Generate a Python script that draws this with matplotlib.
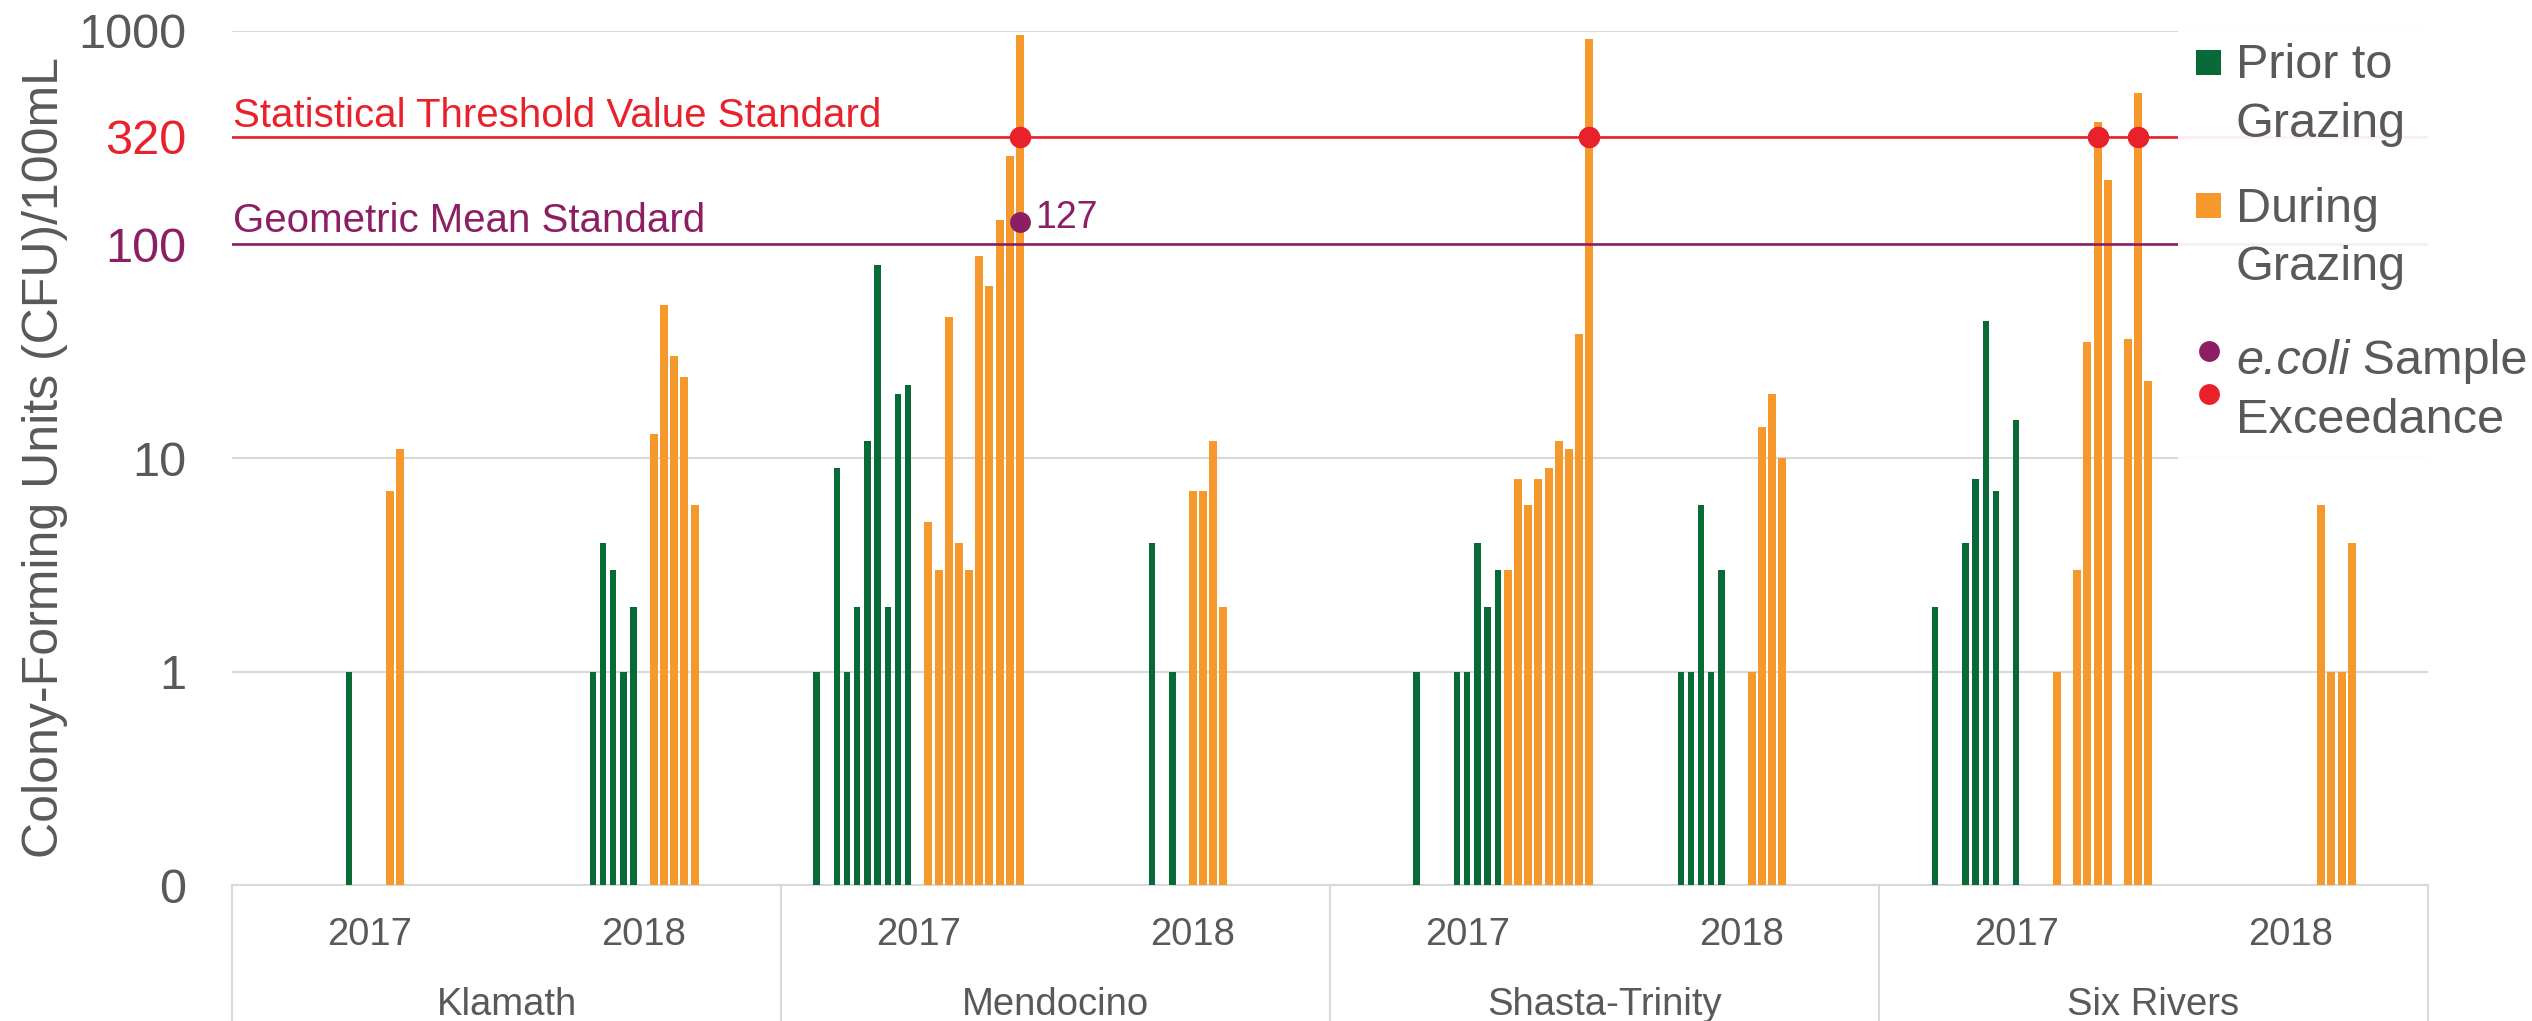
import numpy as np
import matplotlib
matplotlib.use("Agg")
import matplotlib.pyplot as plt
import matplotlib.transforms as mtransforms
from matplotlib.patches import Rectangle
from matplotlib.lines import Line2D

plt.rcParams['font.family'] = ['Liberation Sans', 'DejaVu Sans']

_ = None
FORESTS = ['Klamath', 'Mendocino', 'Shasta-Trinity', 'Six Rivers']
YEARS = ['2017', '2018']
N_SLOTS = 27  # sample slots per forest-year group

# ---- E. coli results, CFU/100mL (None = no sample in that slot) ----
KLA17_PRIOR  = [_,_,_,_,_,_,_,_,_,  _,_,1,_,_,_,_,_,_,  _,_,_,_,_,_,_,_,_]
KLA17_DURING = [_,_,_,_,_,_,_,_,_,  _,_,_,_,_,_,7,11,_, _,_,_,_,_,_,_,_,_]
KLA18_PRIOR  = [_,_,_,_,_,_,_,_,1,  4,3,1,2,_,_,_,_,_,  _,_,_,_,_,_,_,_,_]
KLA18_DURING = [_,_,_,_,_,_,_,_,_,  _,_,_,_,_,13,52,30,24, 6,_,_,_,_,_,_,_,_]

MEN17_PRIOR  = [_,_,_,1,_,9,1,2,12, 80,2,20,22,_,_,_,_,_, _,_,_,_,_,_,_,_,_]
MEN17_DURING = [_,_,_,_,_,_,_,_,_,  _,_,_,_,_,5,3,46,4,  3,88,64,130,260,960,_,_,_]
MEN18_PRIOR  = [_,_,_,_,_,_,_,_,_,  4,_,1,_,_,_,_,_,_,  _,_,_,_,_,_,_,_,_]
MEN18_DURING = [_,_,_,_,_,_,_,_,_,  _,_,_,_,7,7,12,2,_,  _,_,_,_,_,_,_,_,_]

SHA17_PRIOR  = [_,_,_,_,_,_,_,_,1,  _,_,_,1,1,4,2,3,_,  _,_,_,_,_,_,_,_,_]
SHA17_DURING = [_,_,_,_,_,_,_,_,_,  _,_,_,_,_,_,_,_,3,  8,6,8,9,12,11,38,920,_]
SHA18_PRIOR  = [_,_,_,_,_,_,_,1,1,  6,1,3,_,_,_,_,_,_,  _,_,_,_,_,_,_,_,_]
SHA18_DURING = [_,_,_,_,_,_,_,_,_,  _,_,_,_,_,1,14,20,10, _,_,_,_,_,_,_,_,_]

SIX17_PRIOR  = [_,_,_,_,_,2,_,_,4,  8,44,7,_,15,_,_,_,_, _,_,_,_,_,_,_,_,_]
SIX17_DURING = [_,_,_,_,_,_,_,_,_,  _,_,_,_,_,_,_,_,1,  _,3,35,375,200,_,36,510,23]
SIX18_PRIOR  = [_,_,_,_,_,_,_,_,_,  _,_,_,_,_,_,_,_,_,  _,_,_,_,_,_,_,_,_]
SIX18_DURING = [_,_,_,_,_,_,_,_,_,  _,_,_,_,_,_,_,6,1,  1,4,_,_,_,_,_,_,_]

PRIOR = [KLA17_PRIOR, KLA18_PRIOR, MEN17_PRIOR, MEN18_PRIOR,
         SHA17_PRIOR, SHA18_PRIOR, SIX17_PRIOR, SIX18_PRIOR]
DURING = [KLA17_DURING, KLA18_DURING, MEN17_DURING, MEN18_DURING,
          SHA17_DURING, SHA18_DURING, SIX17_DURING, SIX18_DURING]

STV_STANDARD = 320      # Statistical Threshold Value
GM_STANDARD = 100       # Geometric Mean
GM_EXCEED_GROUP = [2]   # Mendocino 2017
GM_EXCEED_VALUE = [127]

Y_TICKS = [0, 1, 10, 100, 320, 1000]
Y_TICK_LABELS = ['0', '1', '10', '100', '320', '1000']

# ---- colours ----
GREEN = '#076a37'
ORANGE = '#f5992c'
RED = '#e8212b'
PURPLE = '#8c1f63'
TXT = '#595959'
GRID = '#d9d9d9'

W, H = 2532, 1021
fig = plt.figure(figsize=(W / 100, H / 100), dpi=100)
ax = fig.add_axes([232 / W, 136 / H, 2196 / W, 854 / H])


def fwd(v):
    v = np.asarray(v, dtype=float)
    return np.where(v >= 1, np.log10(np.maximum(v, 1e-12)) + 1, v)


def inv(y):
    y = np.asarray(y, dtype=float)
    return np.where(y >= 1, 10 ** (y - 1), y)


ax.set_yscale('function', functions=(fwd, inv))
ax.set_ylim(0, 1000)
ax.set_xlim(0, N_SLOTS * len(PRIOR))

# bars
for g, (pr, du) in enumerate(zip(PRIOR, DURING)):
    xs = g * N_SLOTS + np.arange(N_SLOTS) + 0.5
    p = np.array([np.nan if v is None else v for v in pr], dtype=float)
    d = np.array([np.nan if v is None else v for v in du], dtype=float)
    mp, md = ~np.isnan(p), ~np.isnan(d)
    ax.bar(xs[mp], p[mp], width=0.62, color=GREEN, zorder=3, linewidth=0)
    ax.bar(xs[md], d[md], width=0.78, color=ORANGE, zorder=3, linewidth=0)
    # exceedance markers (samples above the STV)
    ex = md & (np.nan_to_num(d) > STV_STANDARD)
    ax.plot(xs[ex], np.full(ex.sum(), STV_STANDARD), 'o', color=RED,
            markersize=15.5, markeredgewidth=0, zorder=6)

# geometric-mean exceedance
for g, val in zip(GM_EXCEED_GROUP, GM_EXCEED_VALUE):
    d = np.array([np.nan if v is None else v for v in DURING[g]], dtype=float)
    last = np.where(~np.isnan(d))[0][-1]
    xg = g * N_SLOTS + last + 0.5
    ax.plot([xg], [val], 'o', color=PURPLE, markersize=15, markeredgewidth=0, zorder=6)
    ax.annotate(str(val), xy=(xg, val), xytext=(11, -4), textcoords='offset points',
                va='baseline', ha='left', fontsize=27, color=PURPLE, zorder=7)

# standards
ax.axhline(STV_STANDARD, color=RED, lw=1.9, zorder=4)
ax.axhline(GM_STANDARD, color=PURPLE, lw=1.9, zorder=4)
blend = mtransforms.blended_transform_factory(ax.transAxes, ax.transData)
ax.annotate('Statistical Threshold Value Standard', xy=(0, STV_STANDARD), xycoords=blend,
            xytext=(1, 7), textcoords='offset points', va='baseline', ha='left',
            fontsize=29, color=RED)
ax.annotate('Geometric Mean Standard', xy=(0, GM_STANDARD), xycoords=blend,
            xytext=(1, 9), textcoords='offset points', va='baseline', ha='left',
            fontsize=29, color=PURPLE)

# axes styling
for s in ['top', 'right', 'left']:
    ax.spines[s].set_visible(False)
ax.spines['bottom'].set_color(GRID)
ax.spines['bottom'].set_linewidth(1.5)
ax.set_yticks(Y_TICKS)
ax.set_yticklabels(Y_TICK_LABELS)
ax.tick_params(axis='y', length=0, pad=33, labelsize=35, labelcolor=TXT)
for lab, t in zip(ax.get_yticklabels(), Y_TICKS):
    if t == STV_STANDARD:
        lab.set_color(RED)
    elif t == GM_STANDARD:
        lab.set_color(PURPLE)
ax.yaxis.grid(True, color=GRID, lw=1.5, zorder=0)
ax.set_axisbelow(True)
ax.set_xticks([])
ax.set_ylabel('Colony-Forming Units (CFU)/100mL', fontsize=36, color=TXT)
ax.yaxis.set_label_coords(-0.0745, 0.5)

# two-level category axis
xblend = mtransforms.blended_transform_factory(ax.transData, ax.transAxes)
n_groups = len(PRIOR)
for g in range(n_groups):
    ax.text(g * N_SLOTS + N_SLOTS / 2, -0.0703, YEARS[g % 2], transform=xblend,
            ha='center', va='baseline', fontsize=27.5, color=TXT)
for f, name in enumerate(FORESTS):
    ax.text((2 * f + 1) * N_SLOTS, -0.1522, name, transform=xblend,
            ha='center', va='baseline', fontsize=27.5, color=TXT)
for f in range(len(FORESTS) + 1):
    xv = 2 * f * N_SLOTS
    ax.plot([xv, xv], [0, -0.17], transform=xblend, color=GRID, lw=1.5,
            clip_on=False, zorder=1)


# legend (drawn on the figure, over the plot)
def fx(px):
    return px / W


def fy(py):
    return 1 - py / H


fig.patches.append(Rectangle((fx(2178), fy(462)), fx(2532) - fx(2178), fy(6) - fy(462),
                             transform=fig.transFigure, facecolor='white', alpha=0.93,
                             edgecolor='none', zorder=10))
fig.patches.append(Rectangle((fx(2196), fy(75)), fx(2221) - fx(2196), fy(50) - fy(75),
                             transform=fig.transFigure, facecolor=GREEN, edgecolor='none', zorder=11))
fig.patches.append(Rectangle((fx(2196), fy(218)), fx(2221) - fx(2196), fy(193) - fy(218),
                             transform=fig.transFigure, facecolor=ORANGE, edgecolor='none', zorder=11))
fig.lines.append(Line2D([fx(2208.5)], [fy(351)], marker='o', color=PURPLE, markersize=15,
                        markeredgewidth=0, transform=fig.transFigure, zorder=11))
fig.lines.append(Line2D([fx(2208.5)], [fy(394)], marker='o', color=RED, markersize=15,
                        markeredgewidth=0, transform=fig.transFigure, zorder=11))
LEG_FS = 35
legend_lines = [('Prior to', 78), ('Grazing', 137), ('During', 222), ('Grazing', 280),
                ('Exceedance', 433)]
for txt, by in legend_lines:
    fig.text(fx(2236), fy(by), txt, ha='left', va='baseline', fontsize=LEG_FS,
             color=TXT, zorder=12)
t_it = fig.text(fx(2236), fy(374), 'e.coli', ha='left', va='baseline', fontsize=LEG_FS,
                color=TXT, style='italic', zorder=12)
renderer = fig.canvas.get_renderer()
bb = t_it.get_window_extent(renderer=renderer)
fig.text(bb.x1 / W, fy(374), ' Sample', ha='left', va='baseline', fontsize=LEG_FS,
         color=TXT, zorder=12)

fig.savefig('out.png', dpi=100, facecolor='white')
